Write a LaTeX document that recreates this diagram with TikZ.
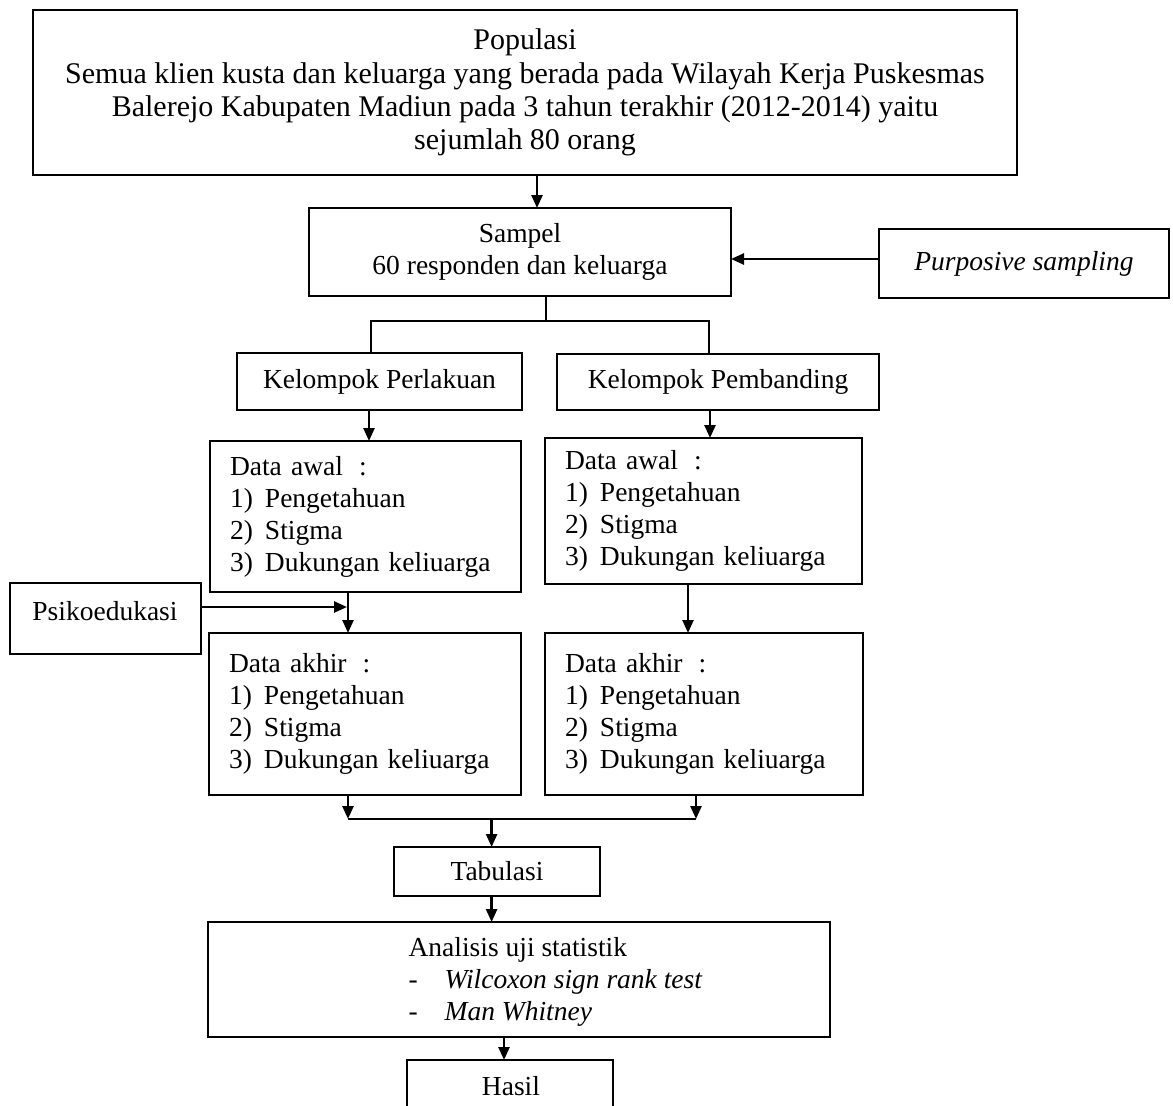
\documentclass[tikz,border=0pt]{standalone}
\usepackage{fontspec}
\setmainfont{Liberation Serif}
\usetikzlibrary{arrows.meta}
\newcommand\fntA{\fontsize{27.5}{32}\selectfont}
\newcommand\fntPop{\fontsize{30}{33.3}\selectfont}
\newcommand\itm[1]{\makebox[35pt][l]{#1}}
\begin{document}
\begin{tikzpicture}[x=1pt,y=-1pt,
  box/.style={draw, line width=2.9pt, inner sep=0pt, outer sep=0pt, font=\fntA, align=center},
  databox/.style={box, align=left},
  txt/.style={inner sep=0pt, outer sep=0pt, font=\fntA},
  ln/.style={line width=2.5pt},
  arr/.style={ln, -{Triangle[length=13pt,width=11pt]}}]
\useasboundingbox (0,0) rectangle (1173,1106);
\clip (0,0) rectangle (1173,1106);
% boxes
\node[box, font=\fntPop, minimum width=984pt, minimum height=165pt] (pop) at (525,92.5)
  {Populasi\\Semua klien kusta dan keluarga yang berada pada Wilayah Kerja Puskesmas\\Balerejo Kabupaten Madiun pada 3 tahun terakhir (2012-2014) yaitu\\sejumlah 80 orang};
\node[box, minimum width=422pt, minimum height=88pt] (sampel) at (520,252)
  {Sampel\\60 responden dan keluarga};
\node[box, minimum width=290pt, minimum height=69pt] (purp) at (1024,263.5)
  {\itshape Purposive sampling};
\node[box, minimum width=285pt, minimum height=57pt] (kp) at (379.5,381.5) {Kelompok Perlakuan};
\node[box, minimum width=322pt, minimum height=56pt] (kb) at (718,382) {Kelompok Pembanding};
\node[databox, text width=271pt, minimum width=311pt, minimum height=151pt] (awalL) at (365.5,516.5)
  {Data awal\hspace{16pt}:\\\itm{1)}Pengetahuan\\\itm{2)}Stigma\\\itm{3)}Dukungan keliuarga};
\node[databox, text width=277pt, minimum width=317pt, minimum height=146pt] (awalR) at (703.5,511)
  {Data awal\hspace{16pt}:\\\itm{1)}Pengetahuan\\\itm{2)}Stigma\\\itm{3)}Dukungan keliuarga};
\node[box, minimum width=191pt, minimum height=71pt] (psiko) at (105.5,618.5) {};
\node[txt, anchor=base] (psikotxt) at (105,620) {Psikoedukasi};
\node[databox, text width=272pt, minimum width=312pt, minimum height=162pt] (akhirL) at (365,714)
  {Data akhir\hspace{16pt}:\\\itm{1)}Pengetahuan\\\itm{2)}Stigma\\\itm{3)}Dukungan keliuarga};
\node[databox, text width=278pt, minimum width=318pt, minimum height=162pt] (akhirR) at (704,714)
  {Data akhir\hspace{16pt}:\\\itm{1)}Pengetahuan\\\itm{2)}Stigma\\\itm{3)}Dukungan keliuarga};
\node[box, minimum width=206pt, minimum height=49pt] (tab) at (497,871.5) {Tabulasi};
\node[box, minimum width=622pt, minimum height=115pt] (anal) at (519,979.5) {};
\node[txt, align=left, anchor=west] (analtxt) at (408.6,982)
  {Analisis uji statistik\\\makebox[36pt][l]{-}\textit{Wilcoxon sign rank test}\\\makebox[36pt][l]{-}\textit{Man Whitney}};
\node[box, minimum width=206pt, minimum height=80pt] (hasil) at (510,1100) {};
\node[txt, anchor=base] (hasiltxt) at (511,1095) {Hasil};
% helper coordinates
\coordinate (xa) at (537,0);
\coordinate (xs) at (546,0);
\coordinate (xl) at (371,0);
\coordinate (xr) at (709,0);
\coordinate (sy) at (0,321);
\coordinate (xkl) at (369,0);
\coordinate (xkr) at (710,0);
\coordinate (xml) at (348,0);
\coordinate (xmr) at (688,0);
\coordinate (xbr) at (696,0);
\coordinate (jy) at (0,819);
\coordinate (xt) at (491.6,0);
\coordinate (xh) at (504,0);
\coordinate (py) at (0,259);
\coordinate (psy) at (0,607);
% connectors
\draw[arr] (xa |- pop.south) -- (xa |- sampel.north);
\draw[ln] (xs |- sampel.south) -- (xs |- sy);
\draw[ln] (xl |- kp.north) -- (xl |- sy) -- (xr |- sy) -- (xr |- kb.north);
\draw[arr] (purp.west |- py) -- (sampel.east |- py);
\draw[arr] (xkl |- kp.south) -- (xkl |- awalL.north);
\draw[arr] (xkr |- kb.south) -- (xkr |- awalR.north);
\draw[arr] (xml |- awalL.south) -- (xml |- akhirL.north);
\draw[arr, shorten >=1pt] (psiko.east |- psy) -- (xml |- psy);
\draw[arr] (xmr |- awalR.south) -- (xmr |- akhirR.north);
\draw[arr] (xml |- akhirL.south) -- (xml |- jy);
\draw[arr] (xbr |- akhirR.south) -- (xbr |- jy);
\draw[ln] (xml |- jy) -- (xbr |- jy);
\draw[arr] (xt |- jy) -- (xt |- tab.north);
\draw[arr] (xt |- tab.south) -- (xt |- anal.north);
\draw[arr] (xh |- anal.south) -- (xh |- hasil.north);
\end{tikzpicture}
\end{document}
